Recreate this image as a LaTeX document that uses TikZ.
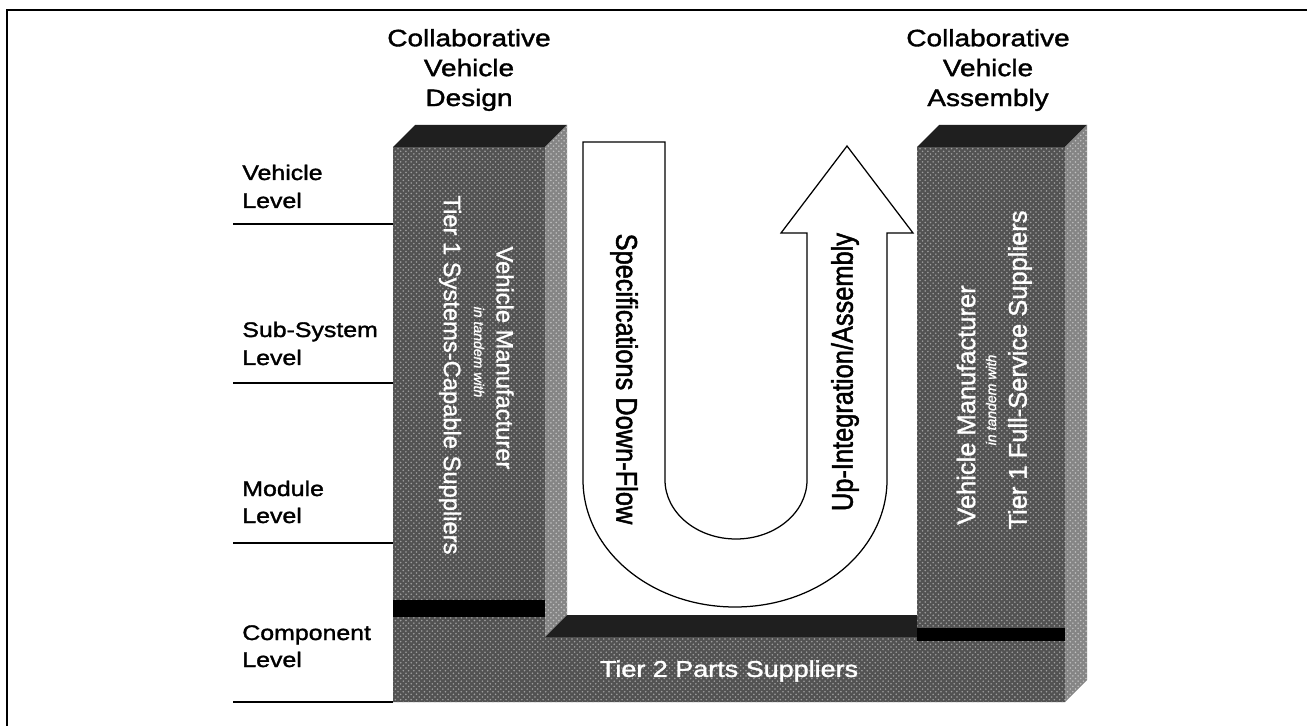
\documentclass[tikz,border=0pt]{standalone}
\usepackage{fontspec}
\usetikzlibrary{patterns}
\setmainfont{Liberation Sans}
\newfontfamily\wfont[FakeStretch=1.18,FakeBold=1.6]{Liberation Sans}
\newfontfamily\tfont[FakeStretch=0.85,FakeBold=1.6]{Liberation Sans}
\newfontfamily\pfont[FakeBold=1.2]{Liberation Sans}
\begin{document}
\begin{tikzpicture}[x=0.2mm,y=-0.2mm,
  frontface/.style={fill=black!68,draw=none,postaction={pattern=crosshatch dots,pattern color=black!38}},
  topface/.style={fill=black!88,draw=none},
  sideface/.style={fill=black!48,draw=none,postaction={pattern=crosshatch dots,pattern color=black!25}},
  blackbar/.style={fill=black,draw=none},
  levellabel/.style={anchor=base west,inner sep=0pt,font=\wfont\fontsize{12}{14}\selectfont},
  header/.style={align=center,inner sep=0pt,font=\wfont\fontsize{13.5}{17}\selectfont},
  levelline/.style={draw=black,line width=0.25mm},
  pillartext/.style={text=white,inner sep=0pt,font=\pfont\fontsize{14.5}{17}\selectfont},
  smalltext/.style={text=white,inner sep=0pt,font=\pfont\fontsize{8}{10}\selectfont\itshape},
  flowtext/.style={inner sep=0pt,font=\tfont\fontsize{17}{20}\selectfont},
  ushape/.style={fill=white,draw=black,line width=0.25mm}
]
\useasboundingbox (0,0) rectangle (1307,726);
\fill[white] (0,0) rectangle (1307,726);
% frame
\draw[line width=0.5mm] (7,726) -- (7,10) -- (1307,10);

% headers
\node[header] (hdesign) at (469,70) {Collaborative\\Vehicle\\Design};
\node[header] (hassembly) at (988,70) {Collaborative\\Vehicle\\Assembly};

% slab front (base) and pillars
\path[frontface] (393,147) -- (545,147) -- (545,637) -- (917,637) -- (917,147) -- (1065,147) -- (1065,702) -- (393,702) -- cycle;
% left pillar top & side
\path[topface] (393,147) -- (545,147) -- (567,125) -- (415,125) -- cycle;
\path[sideface] (545,147) -- (567,125) -- (567,615) -- (545,637) -- cycle;
% right pillar top & side
\path[topface] (917,147) -- (1065,147) -- (1087,125) -- (939,125) -- cycle;
\path[sideface] (1065,147) -- (1087,125) -- (1087,680) -- (1065,702) -- cycle;
% slab top face
\path[topface] (545,637) -- (567,615) -- (917,615) -- (917,637) -- cycle;
% black bars
\path[blackbar] (393,600) rectangle (545,617);
\path[blackbar] (917,628) rectangle (1065,641);

% level labels and lines
\coordinate (l1a) at (233,224); \coordinate (l1b) at (393,224);
\coordinate (l2a) at (233,383); \coordinate (l2b) at (393,383);
\coordinate (l3a) at (233,543); \coordinate (l3b) at (393,543);
\coordinate (l4a) at (233,702); \coordinate (l4b) at (393,702);
\draw[levelline] (l1a) -- (l1b);
\draw[levelline] (l2a) -- (l2b);
\draw[levelline] (l3a) -- (l3b);
\draw[levelline] (l4a) -- (l4b);
\node[levellabel] (lv1) at (242,180) {Vehicle};
\node[levellabel] (lv1b) at (242,208) {Level};
\node[levellabel] (lv2) at (242,337) {Sub-System};
\node[levellabel] (lv2b) at (242,365) {Level};
\node[levellabel] (lv3) at (242,496) {Module};
\node[levellabel] (lv3b) at (242,523) {Level};
\node[levellabel] (lv4) at (242,640) {Component};
\node[levellabel] (lv4b) at (242,667) {Level};

% U arrow
\path[ushape] (583,142) -- (583,480)
  arc[start angle=180,end angle=0,x radius=152,y radius=127]
  -- (887,233) -- (913,233) -- (847,146) -- (781,233) -- (807,233) -- (807,480)
  arc[start angle=0,end angle=180,x radius=71,y radius=59]
  -- (665,142) -- cycle;
\node[flowtext,rotate=-90] (spec) at (624,379) {Specifications Down-Flow};
\node[flowtext,rotate=90] (upint) at (845,372) {Up-Integration/Assembly};

% pillar texts
\node[pillartext,rotate=-90,font=\pfont\fontsize{13.5}{16}\selectfont] (lvm) at (505,358) {Vehicle Manufacturer};
\node[smalltext,rotate=-90] (ltw) at (479,352) {in tandem with};
\node[pillartext,rotate=-90,font=\pfont\fontsize{13.5}{16}\selectfont] (ltier) at (450,375) {Tier 1 Systems-Capable Suppliers};

\node[pillartext,rotate=90] (rvm) at (966,405) {Vehicle Manufacturer};
\node[smalltext,rotate=90] (rtw) at (991,400) {in tandem with};
\node[pillartext,rotate=90] (rtier) at (1020,370) {Tier 1 Full-Service Suppliers};

% base text
\node[text=white,inner sep=0pt,font=\wfont\fontsize{13}{15}\selectfont] (tier2) at (729,671) {Tier 2 Parts Suppliers};
\end{tikzpicture}
\end{document}
